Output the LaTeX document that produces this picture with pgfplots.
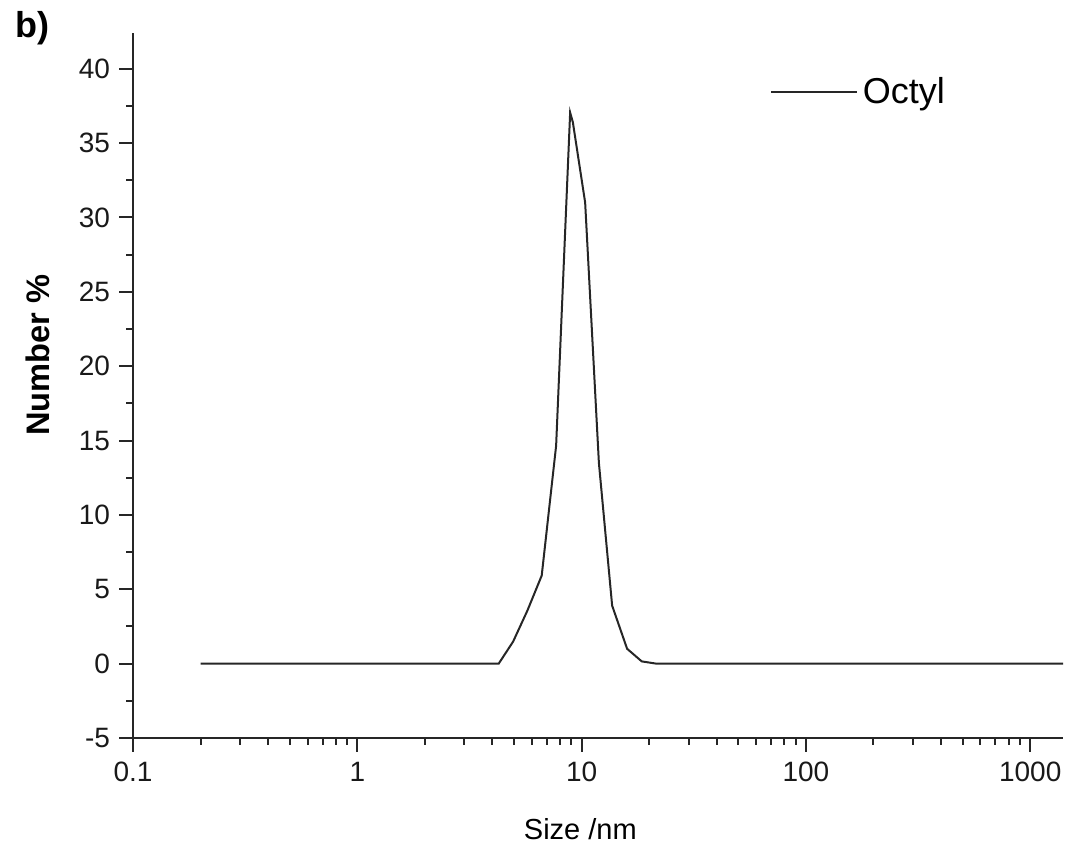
\documentclass[border=0pt]{standalone}
\usepackage{pgfplots}
\pgfplotsset{compat=1.18}
\usepackage{fontspec}
\setmainfont{Liberation Sans}
\begin{document}
\begin{tikzpicture}
\useasboundingbox (-66.5pt,-55.5pt) rectangle (466pt,369pt);
\begin{axis}[
  at={(0pt,0pt)}, anchor=south west,
  scale only axis, width=465pt, height=352.5pt,
  xmode=log, xmin=0.1, xmax=1400, ymin=-5, ymax=42.4,
  axis x line*=bottom, axis y line*=left,
  axis line style={-, line width=1pt, black!85},
  tick align=outside, major tick length=7pt, minor tick length=3.5pt,
  every tick/.style={line width=1pt, black!85},
  xtick={0.1,1,10,100,1000}, xticklabels={0.1,1,10,100,1000},
  minor xtick={0.2,0.3,0.4,0.5,0.6,0.7,0.8,0.9,2,3,4,5,6,7,8,9,20,30,40,50,60,70,80,90,200,300,400,500,600,700,800,900},
  ytick={-5,0,5,10,15,20,25,30,35,40}, minor y tick num=1,
  /pgf/number format/assume math mode=true,
  tick label style={font=\fontsize{14}{16}\selectfont, text=black!90},
  xticklabel style={yshift=-1.5pt},
  yticklabel style={xshift=-1pt},
  xlabel={Size /nm}, ylabel={\bfseries Number \%},
  every axis x label/.style={at={(axis description cs:0.481,-0.129)}, anchor=center, font=\fontsize{14.5}{17}\selectfont},
  every axis y label/.style={at={(axis description cs:-0.102,0.543)}, rotate=90, anchor=center, font=\fontsize{16.3}{19}\selectfont},
  legend style={draw=none, fill=none, at={(axis description cs:0.685,0.916)}, anchor=west, inner sep=0pt, font=\fontsize{18}{21}\selectfont, nodes={inner xsep=2.25pt, inner ysep=0pt}},
  legend image code/.code={\draw[#1] (0pt,0pt) -- (43pt,0pt);},
]
\addplot[line width=1pt, black!85] coordinates {
(0.2,0) (4.27,0) (4.95,1.48) (5.73,3.56) (6.64,5.92) (7.70,14.66) (8.89,37.05) (9.14,36.4) (10.37,31.0) (11.94,13.5) (13.68,3.9) (15.95,1.0) (18.54,0.15) (21.5,0) (1500,0)
};
\addlegendentry{Octyl}
\end{axis}
\node[anchor=west, inner sep=0pt, font=\fontsize{18}{21}\selectfont\bfseries] at (-59pt,355pt) {b)};
\end{tikzpicture}
\end{document}
